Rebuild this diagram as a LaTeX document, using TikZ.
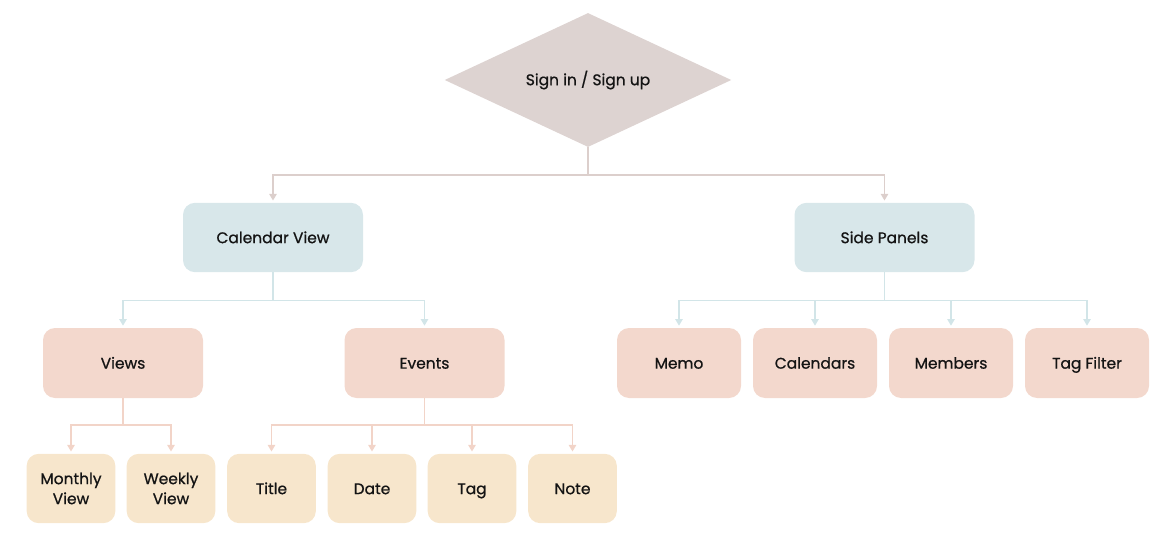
\documentclass[tikz,border=0pt]{standalone}
\usepackage{fontspec}
\setmainfont{Poppins}[FakeBold=0.8]
\usetikzlibrary{shapes.geometric,arrows.meta}

\definecolor{signfill}{HTML}{DDD3D1}
\definecolor{signline}{HTML}{DCCFCC}
\definecolor{panelfill}{HTML}{D8E7EA}
\definecolor{panelline}{HTML}{D2E5E8}
\definecolor{itemfill}{HTML}{F3D8CD}
\definecolor{itemline}{HTML}{F2D4C8}
\definecolor{leaffill}{HTML}{F7E6CC}
\definecolor{textcol}{HTML}{141414}

\begin{document}
\begin{tikzpicture}[x=0.75pt,y=-0.75pt]

\tikzstyle{box}=[rounded corners=9pt,inner sep=0pt,align=center,text=textcol,font=\fontsize{11.6}{15}\selectfont]
\tikzstyle{oneline}=[box,text height=8.5pt,text depth=0pt]
\tikzstyle{panel}=[oneline,fill=panelfill,minimum width=135pt,minimum height=52pt]
\tikzstyle{item}=[oneline,fill=itemfill,minimum width=120pt,minimum height=52.5pt]
\tikzstyle{sideitem}=[item,minimum width=93pt]
\tikzstyle{leaf}=[oneline,fill=leaffill,minimum width=66.5pt,minimum height=52pt]
\tikzstyle{twoleaf}=[box,fill=leaffill,minimum width=66.5pt,minimum height=52pt]
\tikzstyle{link}=[line width=1.4pt,-{Triangle[length=5pt,width=5.5pt]},shorten >=1.5pt]

\useasboundingbox (0,0) rectangle (1176,538);

%% top
\node[diamond,aspect=2.14,fill=signfill,minimum width=215pt,minimum height=100.5pt,inner sep=0pt,text=textcol,font=\fontsize{11.6}{15}\selectfont] (sign) at (588,80) {Sign in / Sign up};

%% second level
\node[panel] (cal) at (273,237.5) {Calendar View};
\node[panel] (side) at (884.5,237.5) {Side Panels};

%% third level
\node[item] (views) at (123,363) {Views};
\node[item] (events) at (424.5,363) {Events};
\node[sideitem] (memo) at (679,363) {Memo};
\node[sideitem] (cals) at (815,363) {Calendars};
\node[sideitem] (members) at (951,363) {Members};
\node[sideitem] (tagf) at (1087,363) {Tag Filter};

%% leaves
\node[twoleaf] (monthly) at (71,488.5) {Monthly\\View};
\node[twoleaf] (weekly) at (171,488.5) {Weekly\\View};
\node[leaf] (title) at (271.5,488.5) {Title};
\node[leaf] (date) at (372,488.5) {Date};
\node[leaf] (tag) at (472,488.5) {Tag};
\node[leaf] (note) at (572.5,488.5) {Note};

%% connectors
\draw[link,signline] (sign.south) -- ++(0,28) -| (cal.north);
\draw[link,signline] (sign.south) -- ++(0,28) -| (side.north);

\foreach \n in {views,events}
    \draw[link,panelline] (cal.south) -- ++(0,28) -| (\n.north);
\foreach \n in {memo,cals,members,tagf}
    \draw[link,panelline] (side.south) -- ++(0,28) -| (\n.north);

\foreach \n in {monthly,weekly}
    \draw[link,itemline] (views.south) -- ++(0,27) -| (\n.north);
\foreach \n in {title,date,tag,note}
    \draw[link,itemline] (events.south) -- ++(0,27) -| (\n.north);

\end{tikzpicture}
\end{document}
